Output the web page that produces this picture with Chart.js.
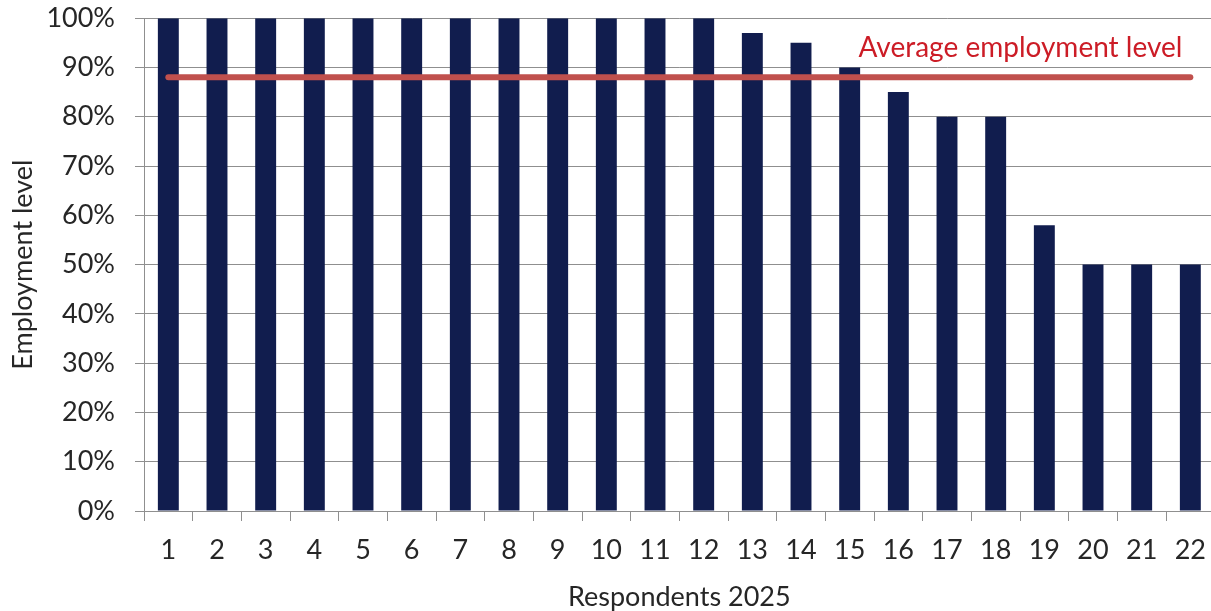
<!DOCTYPE html>
<html>
<head>
<meta charset="utf-8">
<script src="https://cdn.jsdelivr.net/npm/chart.js@4"></script>
<style>
  html, body { margin: 0; padding: 0; background: #fff; overflow: hidden; }
  #wrap { width: 1219px; height: 631px; position: relative; margin-top: -18px; }
</style>
</head>
<body>
<div id="wrap"><canvas id="chart"></canvas></div>
<script>
// Respondent numbers on the x axis
const respondents = ['1','2','3','4','5','6','7','8','9','10','11','12','13','14','15','16','17','18','19','20','21','22'];
// Employment level per respondent, in percent
const employmentLevel = [100,100,100,100,100,100,100,100,100,100,100,100,97,95,90,85,80,80,58,50,50,50];
// Average employment level across respondents, in percent
const averageLevel = [88,88,88,88,88,88,88,88,88,88,88,88,88,88,88,88,88,88,88,88,88,88];
const averageLabel = 'Average employment level';
// Percentage ticks on the y axis
const yTicks = [0,10,20,30,40,50,60,70,80,90,100];

const FONT = 'Lato';
const TEXT = '#262626';
const GRID = '#8f8f8f';

const averageText = {
  id: 'averageText',
  afterDatasetsDraw(chart) {
    const { ctx, scales: { x, y } } = chart;
    const last = respondents.length - 1;
    ctx.save();
    ctx.font = '28px ' + FONT;
    ctx.fillStyle = '#cc1c26';
    ctx.textAlign = 'right';
    ctx.textBaseline = 'middle';
    ctx.fillText(averageLabel, x.getPixelForValue(last) - 8, y.getPixelForValue(averageLevel[last]) - 29);
    ctx.restore();
  }
};

new Chart(document.getElementById('chart'), {
  data: {
    labels: respondents,
    datasets: [
      {
        type: 'line',
        label: averageLabel,
        data: averageLevel,
        borderColor: '#c0504d',
        borderWidth: 6,
        borderCapStyle: 'round',
        pointRadius: 0,
        fill: false,
        order: 0
      },
      {
        type: 'bar',
        label: 'Employment level',
        data: employmentLevel,
        backgroundColor: '#111d4e',
        barPercentage: 0.43,
        categoryPercentage: 1,
        order: 1
      }
    ]
  },
  options: {
    responsive: true,
    maintainAspectRatio: false,
    animation: false,
    layout: { padding: { top: 2, right: 0, left: 0, bottom: 0 } },
    plugins: { legend: { display: false }, tooltip: { enabled: false } },
    scales: {
      x: {
        offset: true,
        grid: { display: true, drawOnChartArea: false, offset: true, color: GRID, tickLength: 10 },
        border: { color: GRID },
        ticks: { color: TEXT, font: { family: FONT, size: 27 }, padding: 13, maxRotation: 0, autoSkip: false },
        title: { display: true, text: 'Respondents 2025', color: TEXT, font: { family: FONT, size: 27 }, padding: { top: 0, bottom: 0 } },
        afterFit(scale) { scale.height = 102; }
      },
      y: {
        min: 0,
        max: 100,
        afterBuildTicks(scale) { scale.ticks = yTicks.map(v => ({ value: v })); },
        grid: { color: GRID, tickLength: 9 },
        border: { color: GRID },
        ticks: { color: TEXT, font: { family: FONT, size: 27 }, padding: 20, callback: v => v + '%' },
        title: { display: true, text: 'Employment level', color: TEXT, font: { family: FONT, size: 27 }, padding: { top: 7, bottom: 0 } },
        afterFit(scale) { scale.width = 144; }
      }
    }
  },
  plugins: [averageText]
});
</script>
</body>
</html>
